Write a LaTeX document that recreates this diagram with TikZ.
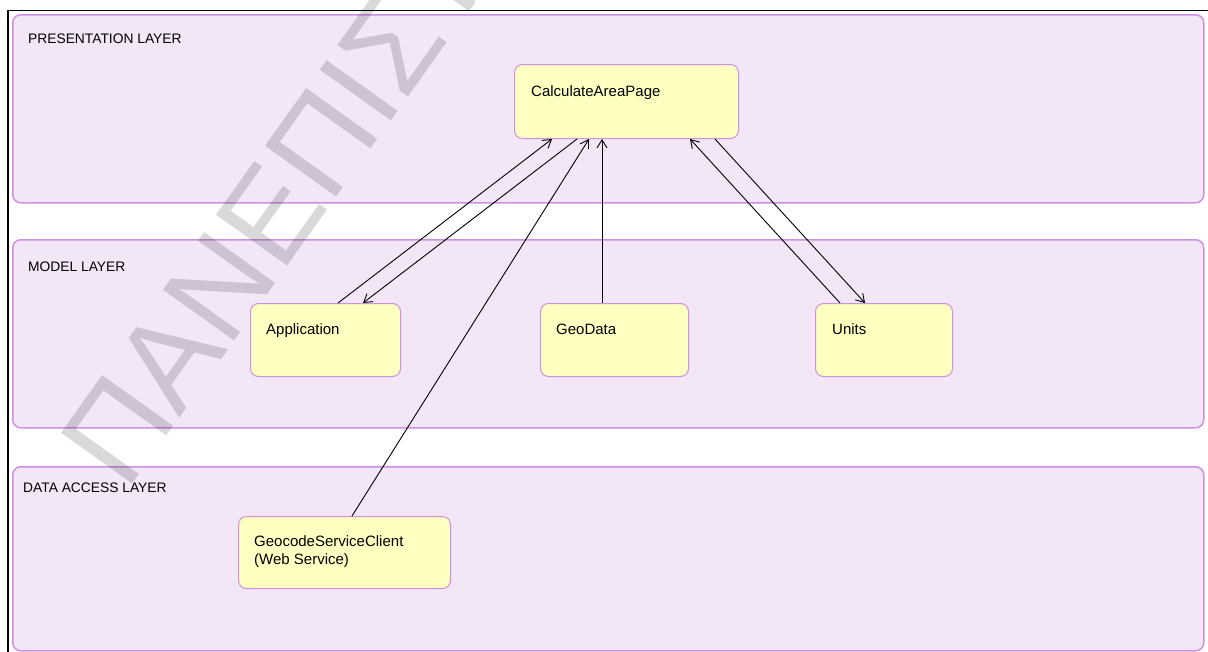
\documentclass[tikz,border=0pt]{standalone}
\usepackage{fontspec}
\setmainfont{Liberation Sans}
\usetikzlibrary{calc,arrows.meta}
\definecolor{layerfill}{RGB}{242,230,247}
\definecolor{layerline}{RGB}{205,145,225}
\definecolor{boxfill}{RGB}{255,255,194}
\begin{document}
\begin{tikzpicture}[x=1pt,y=-1pt,
  layer/.style={draw=layerline, fill=layerfill, line width=1.5pt, rounded corners=8pt,
    anchor=north west, inner sep=0pt},
  unit/.style={draw=layerline, fill=boxfill, line width=1pt, rounded corners=8pt,
    anchor=north west, inner sep=0pt},
  layertitle/.style={anchor=base west, inner sep=0pt, font=\fontsize{13.8}{16}\selectfont},
  unittext/.style={anchor=base west, inner sep=0pt, align=left, font=\fontsize{15}{18}\selectfont},
  link/.style={line width=0.9pt, -{Straight Barb[length=8pt,width=10pt]}},
  watermark/.style={rotate=54.5, anchor=base west, inner sep=0pt, text=black,
    text opacity=0.15, font=\fontsize{127}{127}\selectfont}
]
\useasboundingbox (0,0) rectangle (1208,651);
\clip (0,0) rectangle (1208,651);

% outer frame (only top and left edges fall inside the page)
\draw[line width=1.2pt] (8,700) -- (8,10.5) -- (1300,10.5);

% layers
\node[layer, minimum width=1191pt, minimum height=188pt] (pres) at (12,14) {};
\node[layer, minimum width=1191pt, minimum height=188pt] (model) at (12,239) {};
\node[layer, minimum width=1191pt, minimum height=184pt] (data) at (12,466) {};

\node[layertitle] (prest) at ($(pres.north west)+(16,29)$) {PRESENTATION LAYER};
\node[layertitle] (modelt) at ($(model.north west)+(16,32)$) {MODEL LAYER};
\node[layertitle] (datat) at ($(data.north west)+(11,26)$) {DATA ACCESS LAYER};

% components
\node[unit, minimum width=224pt, minimum height=74pt] (cap) at (514,64) {};
\node[unit, minimum width=150pt, minimum height=73pt] (app) at (250,303) {};
\node[unit, minimum width=148pt, minimum height=73pt] (geo) at (540,303) {};
\node[unit, minimum width=137pt, minimum height=73pt] (units) at (815,303) {};
\node[unit, minimum width=212pt, minimum height=72pt] (gsc) at (238,516) {};

\node[unittext] (capt) at ($(cap.north west)+(17,32)$) {CalculateAreaPage};
\node[unittext] (appt) at ($(app.north west)+(16,31)$) {Application};
\node[unittext] (geot) at ($(geo.north west)+(16,31)$) {GeoData};
\node[unittext] (unitst) at ($(units.north west)+(17,31)$) {Units};
% two-line label: its base anchor sits on the last line
\node[unittext] (gsct) at ($(gsc.north west)+(16,48)$) {GeocodeServiceClient\\(Web Service)};

% dependencies
\draw[link] ($(app.north west)+(88,0)$) -- ($(cap.south west)+(38,0)$);
\draw[link] ($(cap.south west)+(63,0)$) -- ($(app.north west)+(113,0)$);
\draw[link] ($(gsc.north west)+(114,0)$) -- ($(cap.south west)+(75,0)$);
\draw[link] ($(geo.north west)+(62,0)$) -- ($(cap.south west)+(88,0)$);
\draw[link] ($(units.north west)+(25,0)$) -- ($(cap.south west)+(176,0)$);
\draw[link] ($(cap.south west)+(201,0)$) -- ($(units.north west)+(50,0)$);

% watermark
\node[watermark] (wm) at (126,493) {ΠΑΝΕΠΙΣΤΗΜΙΟ};
\end{tikzpicture}
\end{document}
